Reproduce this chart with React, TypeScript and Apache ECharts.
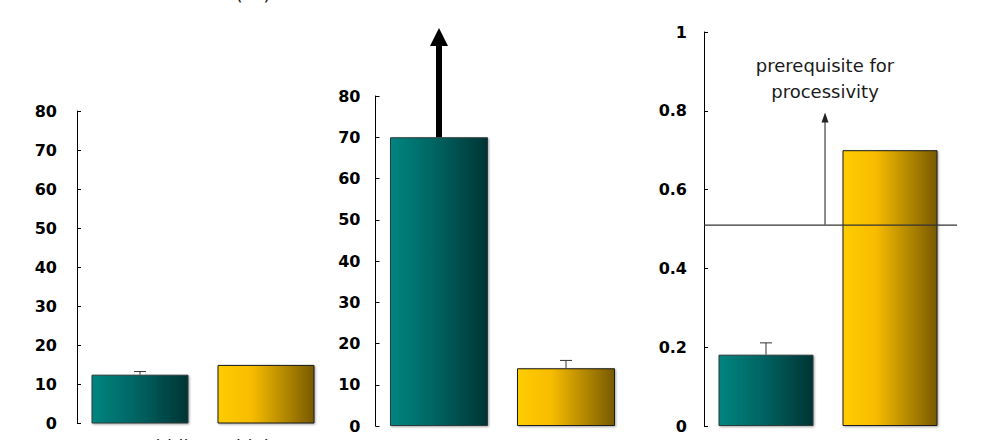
import React, { useEffect, useRef } from "react";
import * as echarts from "echarts";

// ---- data ----
const categories = ["middle", "high"];
const panel1Values = [12.5, 15.0];
const panel1ErrorTops = [13.3, null];
const panel2Values = [70, 14.0];
const panel2ErrorTops = [null, 15.9];
const panel3Values = [0.181, 0.7];
const panel3ErrorTops = [0.211, null];
const countTicks = { min: 0, max: 80, interval: 10 };
const ratioTicks = { min: 0, max: 1, interval: 0.2 };
const bigArrow = { category: 0, from: 70, to: 96.5 };
const threshold = 0.51;
const thresholdArrowTop = 0.796;
const thresholdArrowPos = 0.476; // fraction between the two categories
const annotationLines = ["prerequisite for", "processivity"];
const annotationCenter = 0.8825;
const bottomLabels = ["middle", "high"];
const topFragment = "(nt)";

const tealGrad = () =>
  new echarts.graphic.LinearGradient(0, 0, 1, 0, [
    { offset: 0, color: "#008580" },
    { offset: 0.45, color: "#006563" },
    { offset: 1, color: "#003434" },
  ]);
const goldGrad = () =>
  new echarts.graphic.LinearGradient(0, 0, 1, 0, [
    { offset: 0, color: "#ffcc00" },
    { offset: 0.35, color: "#f7bc00" },
    { offset: 1, color: "#785a00" },
  ]);

const barItems = (vals: number[]) =>
  vals.map((v, i) => ({
    value: v,
    itemStyle: {
      color: i === 0 ? tealGrad() : goldGrad(),
      borderColor: i === 0 ? "#2b3b3b" : "#1a1a1a",
      borderWidth: 1,
      shadowColor: "rgba(0,0,0,0.35)",
      shadowBlur: 2,
      shadowOffsetX: 1,
      shadowOffsetY: 1,
    },
  }));

const errItems = (vals: number[], tops: (number | null)[]) =>
  vals
    .map((v, i) => (tops[i] == null ? null : [i, tops[i], v]))
    .filter((d) => d !== null);

const errorSeries = (idx: number, vals: number[], tops: (number | null)[]) => ({
  type: "custom",
  xAxisIndex: idx,
  yAxisIndex: idx,
  clip: false,
  z: 5,
  data: errItems(vals, tops),
  renderItem: (params: any, api: any) => {
    const x = api.value(0);
    const top = api.value(1);
    const v = api.value(2);
    const p1 = api.coord([x, v]);
    const p2 = api.coord([x, top]);
    return {
      type: "group",
      children: [
        {
          type: "line",
          shape: { x1: p1[0], y1: p1[1], x2: p2[0], y2: p2[1] },
          style: { stroke: "#333", lineWidth: 1 },
        },
        {
          type: "line",
          shape: { x1: p2[0] - 6, y1: p2[1], x2: p2[0] + 6, y2: p2[1] },
          style: { stroke: "#333", lineWidth: 1 },
        },
      ],
    };
  },
});

const yAxisBase = (gridIndex: number, ticks: any, margin: number) => ({
  type: "value",
  gridIndex,
  min: ticks.min,
  max: ticks.max,
  interval: ticks.interval,
  axisLine: { show: true, lineStyle: { color: "#000", width: 1 } },
  axisTick: { show: true, inside: true, length: 4, lineStyle: { color: "#000" } },
  splitLine: { show: false },
  axisLabel: {
    color: "#000",
    fontFamily: "DejaVu Sans",
    fontWeight: "bold",
    fontSize: 16,
    margin,
  },
});

const xAxisBase = (gridIndex: number) => ({
  type: "category",
  gridIndex,
  data: categories,
  show: false,
});

export default function App() {
  const ref = useRef<HTMLDivElement>(null);
  useEffect(() => {
    document.body.style.margin = "0";
    const chart = echarts.init(ref.current!, null, { renderer: "svg" });
    const option: any = {
      animation: false,
      backgroundColor: "#fff",
      grid: [
        { left: 77, top: 111, width: 252, height: 312.5 },
        { left: 375.5, top: 96, width: 254, height: 330 },
        { left: 704, top: 32, width: 248, height: 394 },
      ],
      xAxis: [xAxisBase(0), xAxisBase(1), xAxisBase(2)],
      yAxis: [
        yAxisBase(0, countTicks, 20),
        yAxisBase(1, countTicks, 15),
        yAxisBase(2, ratioTicks, 17),
      ],
      series: [
        { type: "bar", xAxisIndex: 0, yAxisIndex: 0, barWidth: 97, data: barItems(panel1Values) },
        { type: "bar", xAxisIndex: 1, yAxisIndex: 1, barWidth: 98, data: barItems(panel2Values) },
        { type: "bar", xAxisIndex: 2, yAxisIndex: 2, barWidth: 95, data: barItems(panel3Values) },
        errorSeries(0, panel1Values, panel1ErrorTops),
        errorSeries(1, panel2Values, panel2ErrorTops),
        errorSeries(2, panel3Values, panel3ErrorTops),
        {
          type: "custom",
          xAxisIndex: 1,
          yAxisIndex: 1,
          clip: false,
          z: 6,
          data: [[bigArrow.category, bigArrow.from, bigArrow.to]],
          renderItem: (params: any, api: any) => {
            const base = api.coord([api.value(0), api.value(1)]);
            const tip = api.coord([api.value(0), api.value(2)]);
            const x = base[0];
            const headBase = tip[1] + 18;
            return {
              type: "group",
              children: [
                {
                  type: "rect",
                  shape: { x: x - 3, y: headBase - 1, width: 6, height: base[1] - headBase + 1 },
                  style: { fill: "#000" },
                },
                {
                  type: "polygon",
                  shape: { points: [[x - 9, headBase], [x + 9, headBase], [x, tip[1]]] },
                  style: { fill: "#000" },
                },
              ],
            };
          },
        },
        {
          type: "custom",
          xAxisIndex: 2,
          yAxisIndex: 2,
          clip: false,
          z: 6,
          data: [[0, threshold, thresholdArrowTop, annotationCenter]],
          renderItem: (params: any, api: any) => {
            const cs = params.coordSys;
            const yT = api.coord([0, api.value(1)])[1];
            const c0 = api.coord([0, 0])[0];
            const c1 = api.coord([1, 0])[0];
            const ax = c0 + thresholdArrowPos * (c1 - c0);
            const tipY = api.coord([0, api.value(2)])[1];
            const textY = api.coord([0, api.value(3)])[1];
            return {
              type: "group",
              children: [
                {
                  type: "line",
                  shape: { x1: cs.x, y1: yT, x2: cs.x + cs.width + 5, y2: yT },
                  style: { stroke: "#333", lineWidth: 1.2 },
                },
                {
                  type: "line",
                  shape: { x1: ax, y1: yT, x2: ax, y2: tipY + 9 },
                  style: { stroke: "#666", lineWidth: 1.5 },
                },
                {
                  type: "polygon",
                  shape: { points: [[ax - 3.5, tipY + 10], [ax + 3.5, tipY + 10], [ax, tipY]] },
                  style: { fill: "#222" },
                },
                {
                  type: "text",
                  x: ax,
                  y: textY,
                  style: {
                    text: annotationLines.join("\n"),
                    align: "center",
                    verticalAlign: "middle",
                    fontFamily: "DejaVu Sans",
                    fontSize: 18,
                    lineHeight: 26,
                    fill: "#1a1a1a",
                  },
                },
              ],
            };
          },
        },
      ],
      graphic: [
        {
          type: "text",
          left: 138,
          top: 437,
          style: { text: bottomLabels[0], fontFamily: "DejaVu Sans", fontSize: 18, fill: "#222" },
        },
        {
          type: "text",
          left: 236,
          top: 437,
          style: { text: bottomLabels[1], fontFamily: "DejaVu Sans", fontSize: 18, fill: "#222" },
        },
        {
          type: "text",
          left: 235,
          top: -17,
          style: { text: topFragment, fontFamily: "DejaVu Sans", fontSize: 20, fill: "#222" },
        },
      ],
    };
    chart.setOption(option);
    return () => chart.dispose();
  }, []);
  return <div ref={ref} style={{ width: 982, height: 440 }} />;
}
